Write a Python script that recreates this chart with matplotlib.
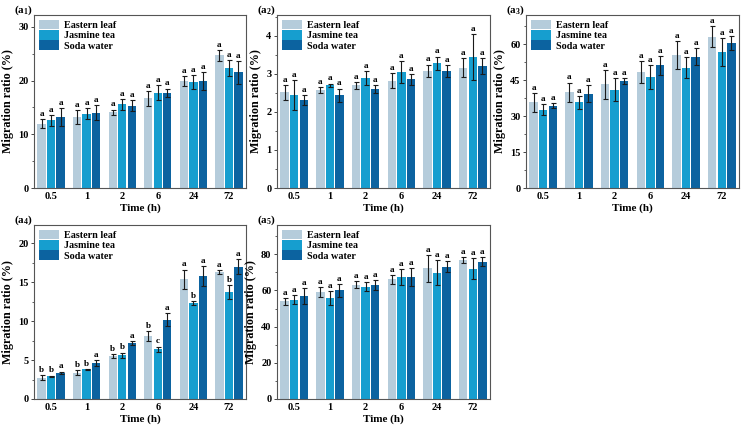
import matplotlib
matplotlib.use("Agg")
import matplotlib.pyplot as plt
from matplotlib.ticker import MultipleLocator
import numpy as np

plt.rcParams['font.family'] = ['Liberation Serif', 'DejaVu Serif']
plt.rcParams['font.weight'] = 'bold'
plt.rcParams['mathtext.fontset'] = 'custom'
plt.rcParams['mathtext.rm'] = 'Liberation Serif:bold'
plt.rcParams['mathtext.it'] = 'Liberation Serif:bold'
plt.rcParams['mathtext.bf'] = 'Liberation Serif:bold'

times = ['0.5', '1', '2', '6', '24', '72']
series = ['Eastern leaf', 'Jasmine tea', 'Soda water']
colors = ['#b5ccdb', '#169ecf', '#0c63a0']

# Panel a1
a1_el = [12.0, 13.2, 14.1, 16.7, 19.9, 24.7]
a1_el_err = [0.8, 1.3, 0.5, 1.4, 0.9, 1.0]
a1_jt = [12.6, 13.8, 15.6, 17.7, 19.7, 22.3]
a1_jt_err = [1.0, 1.0, 1.0, 1.4, 1.3, 1.5]
a1_sw = [13.2, 14.0, 15.3, 17.7, 19.9, 21.5]
a1_sw_err = [1.6, 1.4, 1.0, 0.8, 1.6, 2.1]
a1_letters = [['a'] * 6, ['a'] * 6, ['a'] * 6]

# Panel a2
a2_el = [2.51, 2.57, 2.69, 2.82, 3.08, 3.16]
a2_el_err = [0.20, 0.07, 0.10, 0.20, 0.16, 0.25]
a2_jt = [2.44, 2.70, 2.89, 3.04, 3.27, 3.43]
a2_jt_err = [0.40, 0.04, 0.19, 0.28, 0.18, 0.60]
a2_sw = [2.31, 2.43, 2.59, 2.85, 3.07, 3.20]
a2_sw_err = [0.12, 0.18, 0.10, 0.14, 0.16, 0.20]
a2_letters = [['a'] * 6, ['a'] * 6, ['a'] * 6]

# Panel a3
a3_el = [35.7, 40.0, 43.2, 48.3, 55.5, 63.2]
a3_el_err = [4.0, 4.0, 6.0, 4.5, 6.0, 4.3]
a3_jt = [32.6, 35.7, 41.0, 46.3, 50.2, 56.9]
a3_jt_err = [2.3, 2.6, 4.8, 5.0, 4.5, 5.8]
a3_sw = [34.4, 39.3, 44.6, 51.2, 54.8, 60.5]
a3_sw_err = [1.0, 3.5, 1.2, 4.0, 3.5, 2.8]
a3_letters = [['a'] * 6, ['a'] * 6, ['a'] * 6]

# Panel a4
a4_el = [2.74, 3.38, 5.52, 8.09, 15.37, 16.32]
a4_el_err = [0.35, 0.35, 0.25, 0.60, 1.25, 0.25]
a4_jt = [2.91, 3.81, 5.61, 6.38, 12.33, 13.79]
a4_jt_err = [0.10, 0.05, 0.35, 0.35, 0.20, 0.90]
a4_sw = [3.38, 4.63, 7.24, 10.19, 15.76, 17.00]
a4_sw_err = [0.15, 0.35, 0.25, 0.85, 1.30, 1.00]
a4_letters = [['b', 'b', 'b', 'b', 'a', 'a'],
              ['b', 'b', 'b', 'c', 'b', 'b'],
              ['a', 'a', 'a', 'a', 'a', 'a']]

# Panel a5
a5_el = [54.0, 59.2, 63.2, 66.2, 72.3, 76.9]
a5_el_err = [1.8, 2.6, 1.8, 2.5, 7.5, 1.5]
a5_jt = [54.9, 55.9, 62.1, 67.3, 69.9, 72.1]
a5_jt_err = [2.5, 3.8, 2.4, 4.5, 6.8, 5.8]
a5_sw = [56.8, 60.1, 63.2, 67.5, 73.2, 75.9]
a5_sw_err = [4.5, 3.5, 2.8, 5.0, 3.2, 2.5]
a5_letters = [['a'] * 6, ['a'] * 6, ['a'] * 6]

panels = [
    ('1', [a1_el, a1_jt, a1_sw], [a1_el_err, a1_jt_err, a1_sw_err], a1_letters, 32.2, 10, 5),
    ('2', [a2_el, a2_jt, a2_sw], [a2_el_err, a2_jt_err, a2_sw_err], a2_letters, 4.54, 1, 0.5),
    ('3', [a3_el, a3_jt, a3_sw], [a3_el_err, a3_jt_err, a3_sw_err], a3_letters, 72.2, 15, 7.5),
    ('4', [a4_el, a4_jt, a4_sw], [a4_el_err, a4_jt_err, a4_sw_err], a4_letters, 22.35, 5, 2.5),
    ('5', [a5_el, a5_jt, a5_sw], [a5_el_err, a5_jt_err, a5_sw_err], a5_letters, 96.2, 20, 10),
]

W, H = 744, 430
fig = plt.figure(figsize=(W / 100, H / 100), dpi=100)

boxes = [  # left, top, right, bottom in pixels
    (34, 15, 246, 188),
    (277, 15, 490, 188),
    (526, 15, 739, 188),
    (34, 225, 246, 399),
    (277, 225, 490, 399),
]

x = np.arange(len(times))
width = 0.235
offs = [-0.268, 0.0, 0.268]

for (lbl, vals, errs, letters, ymax, major, minor), (l, t, r, b) in zip(panels, boxes):
    ax = fig.add_axes([l / W, 1 - b / H, (r - l) / W, (b - t) / H])
    for i in range(3):
        ax.bar(x + offs[i], vals[i], width, color=colors[i], label=series[i],
               yerr=errs[i], error_kw=dict(ecolor='#1a1a1a', elinewidth=0.8,
                                          capsize=1.8, capthick=0.8), zorder=2)
        for j in range(len(times)):
            ax.annotate(letters[i][j], (x[j] + offs[i], vals[i][j] + errs[i][j]),
                        xytext=(0, 0.8), textcoords='offset points',
                        ha='center', va='bottom', fontsize=6.6, fontweight='bold')
    ax.set_xlim(-0.48, 5.48)
    ax.set_ylim(0, ymax)
    ax.set_xticks(x)
    ax.set_xticklabels(times)
    ax.yaxis.set_major_locator(MultipleLocator(major))
    ax.yaxis.set_minor_locator(MultipleLocator(minor))
    ax.tick_params(axis='x', length=0, labelsize=7.5, pad=3)
    ax.tick_params(axis='y', which='major', length=2.5, width=0.7, labelsize=7.5,
                   pad=1.5, color='#444444')
    ax.tick_params(axis='y', which='minor', length=1.3, width=0.6, color='#444444')
    for sp in ax.spines.values():
        sp.set_color('#555555')
        sp.set_linewidth(0.8)
    ax.set_xlabel('Time (h)', fontsize=8, fontweight='bold', labelpad=1.5)
    ax.set_ylabel('Migration ratio (%)', fontsize=8.7, fontweight='bold', labelpad=3)
    ax.annotate(r'(a$_{\mathrm{' + lbl + r'}}$)', (0.0, 1.0), xycoords='axes fraction',
                xytext=(-1, 1.5), textcoords='offset points',
                ha='right', va='baseline', fontsize=8, fontweight='bold')
    ax.legend(loc='upper left', frameon=False, fontsize=7.3, handlelength=2.0,
              handleheight=1.05, labelspacing=0.0, handletextpad=0.5,
              borderaxespad=0.3, borderpad=0.2)

fig.savefig('out.png', dpi=100)
